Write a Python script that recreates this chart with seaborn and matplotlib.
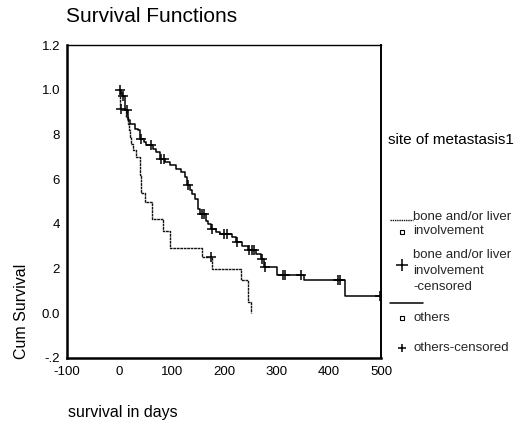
import numpy as np
import pandas as pd
import matplotlib
matplotlib.use("Agg")
import matplotlib.pyplot as plt
import seaborn as sns
from matplotlib.lines import Line2D

# ---------------- data ----------------
group_names = ["bone and/or liver involvement", "others"]

bone_t = [0, 1, 13, 16.5, 19, 21, 23, 27, 31, 39, 42, 48.5, 62, 83, 97, 158, 178, 233, 246, 252]
bone_s = [1.0, 0.915, 0.88, 0.848, 0.82, 0.79, 0.759, 0.73, 0.70, 0.617, 0.54, 0.498,
          0.42, 0.37, 0.29, 0.252, 0.20, 0.148, 0.05, 0.0]
bone_cens_t = [2.5, 175]

oth_t = [0, 3, 5, 10, 16, 20, 29, 35, 38.8, 47, 51, 64, 70, 77, 88, 96, 109, 118, 125, 130,
         135, 138, 144, 150, 155, 165, 169, 175, 185, 192, 215, 222, 235, 245, 262, 270,
         277, 302, 352, 431]
oth_s = [1.0, 0.985, 0.97, 0.91, 0.863, 0.848, 0.826, 0.818, 0.781, 0.765, 0.751, 0.737,
         0.721, 0.692, 0.675, 0.662, 0.647, 0.632, 0.61, 0.572, 0.553, 0.535, 0.513, 0.468,
         0.445, 0.415, 0.40, 0.379, 0.365, 0.356, 0.34, 0.319, 0.30, 0.282, 0.265, 0.245,
         0.207, 0.17, 0.148, 0.076]
oth_cens_t = [1, 7, 15, 42, 60, 80, 85, 131, 158, 161, 177, 200, 205, 224, 248, 253, 258,
              273, 278, 312, 317, 348, 418, 422, 498]

x_ticks = [-100, 0, 100, 200, 300, 400, 500]
y_ticks = [-0.2, 0.0, 0.2, 0.4, 0.6, 0.8, 1.0, 1.2]
y_tick_labels = ["-.2", "0.0", "2", "4", "6", "8", "1.0", "1.2"]


def step_frame(t, s, cens):
    t = list(t)
    s = list(s)
    if cens and max(cens) > t[-1]:
        t.append(max(cens))
        s.append(s[-1])
    return pd.DataFrame({"t": t, "s": s})


def cens_frame(t, s, cens):
    t_arr = np.asarray(t)
    s_arr = np.asarray(s)
    idx = np.searchsorted(t_arr, cens, side="right") - 1
    return pd.DataFrame({"t": cens, "s": s_arr[idx]})


sns.set_theme(style="white")
plt.rcParams["font.family"] = ["Liberation Sans", "DejaVu Sans"]

fig = plt.figure(figsize=(5.18, 4.25), dpi=100)
ax = fig.add_axes([67 / 518, 1 - 358 / 425, (381 - 67) / 518, (358 - 45) / 425])

bone_df = step_frame(bone_t, bone_s, bone_cens_t)
oth_df = step_frame(oth_t, oth_s, oth_cens_t)

bone_style = (0, (2.0, 0.5))

sns.lineplot(data=bone_df, x="t", y="s", ax=ax, drawstyle="steps-post", estimator=None,
             sort=False, color="#111111", linewidth=1.0, linestyle=bone_style)
sns.lineplot(data=oth_df, x="t", y="s", ax=ax, drawstyle="steps-post", estimator=None,
             sort=False, color="black", linewidth=1.1)

sns.scatterplot(data=cens_frame(bone_t, bone_s, bone_cens_t), x="t", y="s", ax=ax,
                marker="+", s=50, color="black", linewidth=1.1)
sns.scatterplot(data=cens_frame(oth_t, oth_s, oth_cens_t), x="t", y="s", ax=ax,
                marker="+", s=50, color="black", linewidth=1.1)

ax.set_xlim(-100, 500)
ax.set_ylim(-0.2, 1.2)
ax.set_xticks(x_ticks)
ax.set_xticklabels([str(v) for v in x_ticks])
ax.set_yticks(y_ticks)
ax.set_yticklabels(y_tick_labels)
ax.set_xlabel("")
ax.set_ylabel("")
ax.tick_params(axis="both", direction="out", length=3, width=1.5, color="black",
               labelsize=9.5, labelcolor="black", pad=2)
ax.tick_params(axis="x", pad=3)
for side in ["left", "bottom", "top", "right"]:
    ax.spines[side].set_visible(True)
    ax.spines[side].set_color("black")
ax.spines["left"].set_linewidth(1.8)
ax.spines["bottom"].set_linewidth(1.8)
ax.spines["top"].set_linewidth(1.0)
ax.spines["right"].set_linewidth(1.4)

# titles / labels
fig.text(66 / 518, 1 - 16 / 425, "Survival Functions", ha="left", va="center",
         fontsize=15, color="black")
fig.text(22 / 518, 1 - 311 / 425, "Cum Survival", ha="center", va="center",
         rotation=90, fontsize=11.5, color="black")
fig.text(68 / 518, 1 - 412 / 425, "survival in days", ha="left", va="center",
         fontsize=11.5, color="black")

# legend (drawn manually to mimic the SPSS layout)
def fx(px):
    return px / 518


def fy(py):
    return 1 - py / 425


fig.text(fx(388), fy(140), "site of metastasis1", ha="left", va="center", fontsize=11,
         color="black")
leg_fs = 9.5
fig.add_artist(Line2D([fx(390), fx(413)], [fy(220), fy(220)], color="#111111",
                      linewidth=1.0, linestyle=(0, (1.0, 0.6))))
fig.text(fx(413), fy(217), "bone and/or liver", ha="left", va="center", fontsize=leg_fs)
fig.add_artist(Line2D([fx(402)], [fy(232)], marker="s", markersize=3.5,
                      markerfacecolor="white", markeredgecolor="black",
                      markeredgewidth=0.8, linestyle="none"))
fig.text(fx(413), fy(231), "involvement", ha="left", va="center", fontsize=leg_fs)
fig.add_artist(Line2D([fx(402)], [fy(265)], marker="+", markersize=8,
                      markeredgecolor="black", markeredgewidth=1.1, linestyle="none"))
fig.text(fx(413), fy(255), "bone and/or liver", ha="left", va="center", fontsize=leg_fs)
fig.text(fx(413), fy(271), "involvement", ha="left", va="center", fontsize=leg_fs)
fig.text(fx(413), fy(287), "-censored", ha="left", va="center", fontsize=leg_fs)
fig.add_artist(Line2D([fx(390), fx(423)], [fy(303), fy(303)], color="black",
                      linewidth=1.1))
fig.add_artist(Line2D([fx(402)], [fy(318)], marker="s", markersize=3.5,
                      markerfacecolor="white", markeredgecolor="black",
                      markeredgewidth=0.8, linestyle="none"))
fig.text(fx(413), fy(318), "others", ha="left", va="center", fontsize=leg_fs)
fig.add_artist(Line2D([fx(402)], [fy(348)], marker="+", markersize=6,
                      markeredgecolor="black", markeredgewidth=1.1, linestyle="none"))
fig.text(fx(413), fy(348), "others-censored", ha="left", va="center", fontsize=leg_fs)

fig.savefig("out.png", dpi=100)
